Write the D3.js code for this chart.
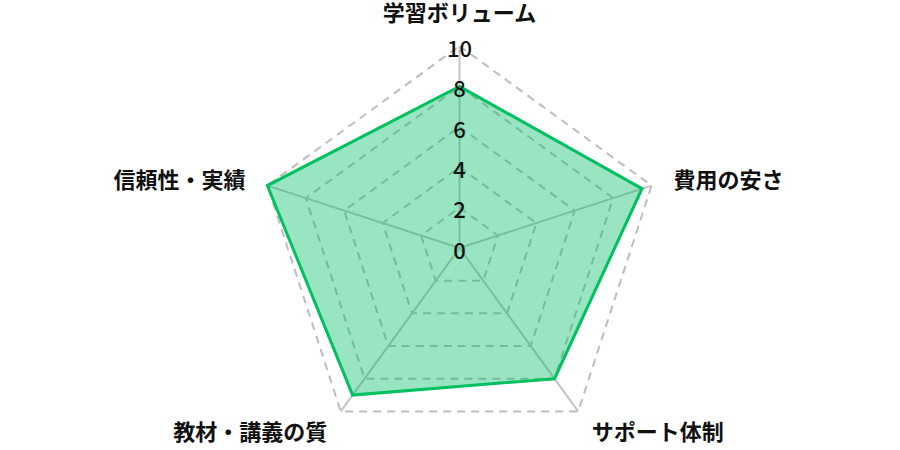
<!DOCTYPE html>
<html>
<head>
<meta charset="utf-8">
<script src="https://cdn.jsdelivr.net/npm/d3@7"></script>
<style>
  body { margin: 0; background: #fff; }
  text { font-family: "Noto Sans CJK JP", "Noto Sans", sans-serif; }
</style>
</head>
<body>
<div id="chart"></div>
<script>
// axes go clockwise from the top
var categories = ["学習ボリューム", "費用の安さ", "サポート体制", "教材・講義の質", "信頼性・実績"];
var scores = [8, 9.5, 8, 9, 10];
var ticks = [0, 2, 4, 6, 8, 10];

var width = 900, height = 450;
var cx = 459.5, cy = 248, radius = 202;

var svg = d3.select("#chart").append("svg")
    .attr("width", width)
    .attr("height", height);

var r = d3.scaleLinear().domain([0, 10]).range([0, radius]);
var angle = d3.scaleLinear().domain([0, categories.length]).range([0, 2 * Math.PI]);

function pt(i, v) {
    var a = angle(i) - Math.PI / 2;
    return [cx + r(v) * Math.cos(a), cy + r(v) * Math.sin(a)];
}

var line = d3.line().curve(d3.curveLinearClosed);

// grid rings
svg.append("g").selectAll("path")
    .data(ticks.slice(1))
    .enter()
    .append("path")
    .attr("d", function(t) {
        return line(categories.map(function(c, i) { return pt(i, t); }));
    })
    .attr("fill", "none")
    .attr("stroke", "#bdbdbd")
    .attr("stroke-width", 2)
    .attr("stroke-dasharray", "8,6");

// spokes
svg.append("g").selectAll("line")
    .data(categories)
    .enter()
    .append("line")
    .attr("x1", cx).attr("y1", cy)
    .attr("x2", function(d, i) { return pt(i, 10)[0]; })
    .attr("y2", function(d, i) { return pt(i, 10)[1]; })
    .attr("stroke", "#c4c4c4")
    .attr("stroke-width", 2);

// data area
svg.append("path")
    .attr("d", line(scores.map(function(v, i) { return pt(i, v); })))
    .attr("fill", "rgba(0, 190, 100, 0.4)")
    .attr("stroke", "#00c060")
    .attr("stroke-width", 3)
    .attr("stroke-linejoin", "miter");

// tick labels up the top spoke
svg.append("g").selectAll("text")
    .data(ticks)
    .enter()
    .append("text")
    .attr("x", cx)
    .attr("y", function(t) { return cy - r(t) + 3; })
    .attr("dy", "0.35em")
    .attr("text-anchor", "middle")
    .attr("font-size", 22)
    .attr("font-weight", 500)
    .attr("fill", "#111")
    .text(function(t) { return t; });

// category labels
svg.append("g").selectAll("text")
    .data(categories)
    .enter()
    .append("text")
    .attr("x", function(d, i) { return pt(i, 10 + 23 / radius * 10)[0]; })
    .attr("y", function(d, i) {
        var p = pt(i, 10 + 23 / radius * 10);
        return i === 0 ? p[1] - 2 : p[1] + 2;
    })
    .attr("dy", function(d, i) { return i === 0 ? 0 : "0.35em"; })
    .attr("text-anchor", function(d, i) {
        var x = pt(i, 10)[0] - cx;
        if (Math.abs(x) < 1) return "middle";
        return x > 0 ? "start" : "end";
    })
    .attr("font-size", 22)
    .attr("font-weight", "bold")
    .attr("fill", "#111")
    .text(function(d) { return d; });
</script>
</body>
</html>
